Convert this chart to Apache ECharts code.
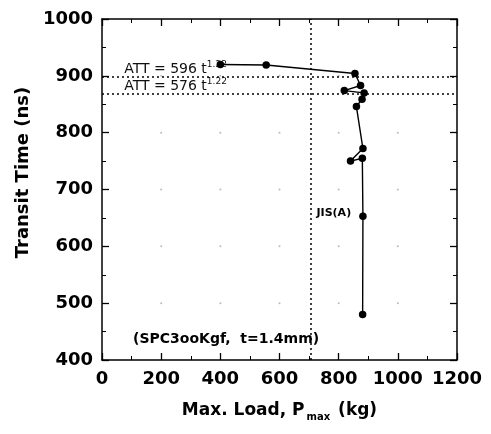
<!DOCTYPE html>
<html>
<head>
<meta charset="utf-8">
<script src="https://cdn.jsdelivr.net/npm/echarts@6/dist/echarts.min.js"></script>
<style>
html,body{margin:0;padding:0;background:#fff;}
#c{width:491px;height:434px;}
</style>
</head>
<body>
<div id="c"></div>
<script>
// ---- data ----
const loadKg    = [400, 555, 855, 874, 819, 886, 879, 860, 882, 840, 880, 882, 881];
const transitNs = [920, 919, 904, 883, 874, 870, 859, 846, 772, 750, 755, 653, 480];
const xTicks = [0, 200, 400, 600, 800, 1000, 1200];
const yTicks = [400, 500, 600, 700, 800, 900, 1000];
const attLines = [898.5, 868.4];          // ATT = 596 t^1.22 , 576 t^1.22 (t = 1.4)
const attLabels = ['596', '576'];
const refLoad = 705;                      // vertical dotted reference line
const dotX = [200, 400, 600, 800, 1000];
const dotY = [500, 600, 700, 800, 900];

const FONT = 'DejaVu Sans';
const chart = echarts.init(document.getElementById('c'), null, {renderer: 'canvas'});

const lineData = loadKg.map((x, i) => [x, transitNs[i]]);
const gridDots = [];
dotX.forEach(x => dotY.forEach(y => gridDots.push([x, y])));

const attRich = {
  a: {fontFamily: FONT, fontSize: 14, color: '#111'},
  s: {fontFamily: FONT, fontSize: 9, color: '#111', verticalAlign: 'top', padding: [0, 0, 10, 0]}
};

const axisCommon = {
  axisLine: {show: true, onZero: false, lineStyle: {color: '#000', width: 1.5}},
  axisTick: {show: true, inside: true, length: 7, lineStyle: {color: '#000', width: 1.3}},
  minorTick: {show: true, splitNumber: 2, length: 4, lineStyle: {color: '#000', width: 1}},
  splitLine: {show: false}
};
const plain = v => String(v);

chart.setOption({
  animation: false,
  backgroundColor: '#fff',
  grid: {left: 102, right: 34, top: 19, bottom: 74, containLabel: false},
  xAxis: [
    Object.assign({}, axisCommon, {
      type: 'value', min: xTicks[0], max: xTicks[xTicks.length - 1], interval: 200,
      axisLabel: {fontFamily: FONT, fontWeight: 'bold', fontSize: 18, color: '#000', margin: 10, formatter: plain},
      name: '{a|Max. Load, P}{b|max}{a| (kg)}',
      nameLocation: 'middle', nameGap: 40,
      nameTextStyle: {
        rich: {
          a: {fontFamily: FONT, fontWeight: 'bold', fontSize: 17, color: '#000'},
          b: {fontFamily: FONT, fontWeight: 'bold', fontSize: 10, color: '#000', verticalAlign: 'bottom', padding: [12, 2, 0, 2]}
        }
      }
    }),
    Object.assign({}, axisCommon, {
      type: 'value', position: 'top', min: xTicks[0], max: xTicks[xTicks.length - 1], interval: 200,
      axisLabel: {show: false}
    })
  ],
  yAxis: [
    Object.assign({}, axisCommon, {
      type: 'value', min: yTicks[0], max: yTicks[yTicks.length - 1], interval: 100,
      axisLabel: {fontFamily: FONT, fontWeight: 'bold', fontSize: 18, color: '#000', margin: 9, formatter: plain},
      name: 'Transit Time (ns)', nameLocation: 'middle', nameGap: 70,
      nameTextStyle: {fontFamily: FONT, fontWeight: 'bold', fontSize: 18, color: '#000', padding: [0, 0, 0, 34]}
    }),
    Object.assign({}, axisCommon, {
      type: 'value', position: 'right', min: yTicks[0], max: yTicks[yTicks.length - 1], interval: 100,
      axisLabel: {show: false}
    })
  ],
  series: [
    {
      type: 'scatter', data: gridDots, symbol: 'circle', symbolSize: 2,
      itemStyle: {color: '#aaa'}, silent: true, z: 1
    },
    {
      type: 'line', data: lineData, symbol: 'circle', symbolSize: 7.5,
      lineStyle: {color: '#000', width: 1.4}, itemStyle: {color: '#000'},
      z: 5,
      markLine: {
        silent: true, symbol: 'none',
        lineStyle: {color: '#000', type: [2, 3], width: 1.5},
        label: {show: false},
        data: attLines.map(v => ({yAxis: v})).concat([{xAxis: refLoad}])
      },
      markPoint: {
        silent: true, symbol: 'circle', symbolSize: 0,
        data: [
          {coord: [75, attLines[0] + 13], value: attLabels[0]},
          {coord: [75, attLines[1] + 13], value: attLabels[1]},
          {coord: [725, 659], value: 'jis'},
          {coord: [105, 437], value: 'spc'}
        ],
        label: {
          show: true, position: 'right', distance: 0,
          formatter: p => {
            if (p.value === 'jis') return '{j|JIS(A)}';
            if (p.value === 'spc') return '{k|(SPC3ooKgf,  t=1.4mm)}';
            return '{a|ATT = ' + p.value + ' t}{s|1.22}';
          },
          rich: Object.assign({}, attRich, {
            j: {fontFamily: FONT, fontWeight: 'bold', fontSize: 11, color: '#000'},
            k: {fontFamily: FONT, fontWeight: 'bold', fontSize: 14, color: '#000'}
          })
        }
      }
    }
  ]
});
</script>
</body>
</html>
